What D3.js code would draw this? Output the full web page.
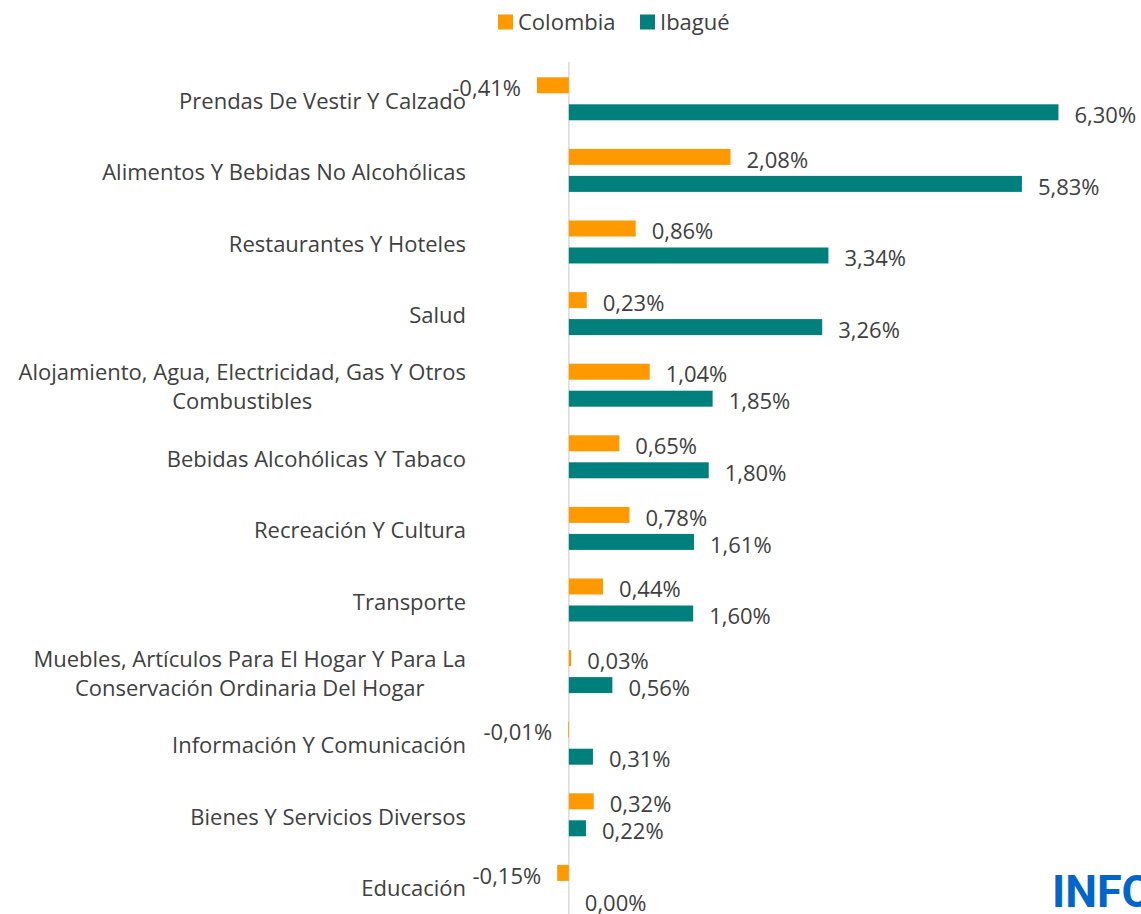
<!DOCTYPE html>
<html>
<head>
<meta charset="utf-8">
<script src="https://cdn.jsdelivr.net/npm/d3@7"></script>
<style>
  body { margin: 0; background: #fff; }
  svg { display: block; font-family: "Open Sans", sans-serif; }
</style>
</head>
<body>
<svg></svg>
<script>
const categories = [
    ["Prendas De Vestir Y Calzado"],
    ["Alimentos Y Bebidas No Alcohólicas"],
    ["Restaurantes Y Hoteles"],
    ["Salud"],
    ["Alojamiento, Agua, Electricidad, Gas Y Otros", "Combustibles"],
    ["Bebidas Alcohólicas Y Tabaco"],
    ["Recreación Y Cultura"],
    ["Transporte"],
    ["Muebles, Artículos Para El Hogar Y Para La", "Conservación Ordinaria Del Hogar"],
    ["Información Y Comunicación"],
    ["Bienes Y Servicios Diversos"],
    ["Educación"]
];
const series = ["Colombia", "Ibagué"];
const colombia = [-0.41, 2.08, 0.86, 0.23, 1.04, 0.65, 0.78, 0.44, 0.03, -0.01, 0.32, -0.15];
const ibague = [6.30, 5.83, 3.34, 3.26, 1.85, 1.80, 1.61, 1.60, 0.56, 0.31, 0.22, 0.00];
const colors = ["#ff9900", "#00807d"];

const width = 1141, height = 914;
const svg = d3.select("svg").attr("width", width).attr("height", height);

const names = categories.map(c => c.join(" "));
const rows = names.map((n, i) => ({ name: n, lines: categories[i], values: [colombia[i], ibague[i]] }));

const x = d3.scaleLinear().domain([-0.5, 6.5]).range([530, 1074]);
const y = d3.scaleBand().domain(names).range([63, 63 + 12 * 71.6]);
const y1 = d3.scaleBand().domain(series).range([0, y.bandwidth()]).paddingInner(0.407).paddingOuter(0.53);
const color = d3.scaleOrdinal().domain(series).range(colors);
const fmt = v => v.toFixed(2).replace(".", ",") + "%";

// zero line
svg.append("line")
    .attr("x1", x(0)).attr("x2", x(0))
    .attr("y1", 62).attr("y2", height)
    .attr("stroke", "#d9d9d9").attr("stroke-width", 1.5);

const g = svg.selectAll(".row")
    .data(rows)
    .enter().append("g")
    .attr("class", "row")
    .attr("transform", d => `translate(0,${y(d.name)})`);

g.selectAll("rect")
    .data(d => d.values.map((v, k) => ({ s: series[k], v })))
    .enter().append("rect")
    .attr("x", d => x(Math.min(0, d.v)))
    .attr("width", d => Math.abs(x(d.v) - x(0)))
    .attr("y", d => y1(d.s))
    .attr("height", y1.bandwidth())
    .attr("fill", d => color(d.s));

g.selectAll(".val")
    .data(d => d.values.map((v, k) => ({ s: series[k], v })))
    .enter().append("text")
    .attr("class", "val")
    .attr("x", d => d.v < 0 ? x(d.v) - 16 : x(d.v) + 16)
    .attr("y", d => y1(d.s) + y1.bandwidth() / 2 + 3)
    .attr("dy", "0.35em")
    .attr("text-anchor", d => d.v < 0 ? "end" : "start")
    .attr("font-size", 22)
    .attr("fill", "#404040")
    .text(d => fmt(d.v));

// category labels
const lab = g.append("text")
    .attr("font-size", 22)
    .attr("fill", "#404040")
    .attr("text-anchor", "middle");
lab.each(function(d) {
    const t = d3.select(this);
    const n = d.lines.length;
    d.lines.forEach((l, j) => {
        t.append("tspan")
            .attr("x", 0)
            .attr("y", y.bandwidth() / 2 + 2 + (j - (n - 1) / 2) * 29)
            .attr("dy", "0.35em")
            .text(l);
    });
});
lab.attr("transform", function() {
    const w = this.getBBox().width;
    return `translate(${466 - w / 2},0)`;
});

// legend
const leg = svg.append("g").attr("transform", "translate(498,22)");
const li = leg.selectAll("g")
    .data(series)
    .enter().append("g")
    .attr("transform", (d, i) => `translate(${i * 142},0)`);
li.append("rect").attr("x", 0).attr("y", -7.5).attr("width", 15).attr("height", 15).attr("fill", d => color(d));
li.append("text")
    .attr("x", 20).attr("dy", "0.35em")
    .attr("font-size", 22)
    .attr("fill", "#404040")
    .text(d => d);

// logo fragment
svg.append("text")
    .attr("x", 1052).attr("y", 907)
    .attr("font-size", 45)
    .attr("font-weight", "bold")
    .attr("fill", "#0066cc")
    .attr("font-family", "Roboto, sans-serif")
    .text("INFORMA");
</script>
</body>
</html>
